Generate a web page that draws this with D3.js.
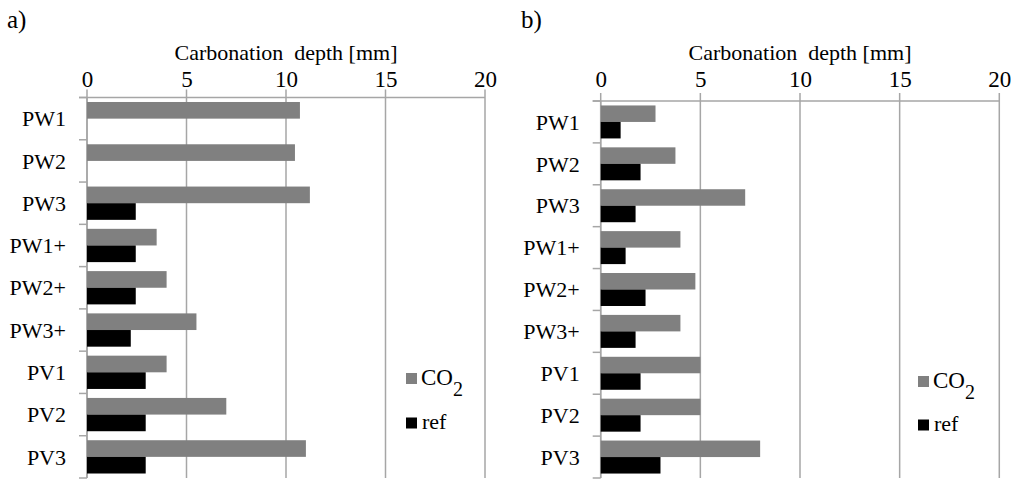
<!DOCTYPE html>
<html lang="en">
<head>
<meta charset="utf-8">
<title>Carbonation depth</title>
<script src="https://cdn.jsdelivr.net/npm/d3@7"></script>
<style>
  body { margin: 0; background: #fff; }
  svg { display: block; }
</style>
</head>
<body>
<script>
// categories and values (mm)
const categories = ["PW1", "PW2", "PW3", "PW1+", "PW2+", "PW3+", "PV1", "PV2", "PV3"];
const seriesKeys = ["CO2", "ref"];
const co2A = [10.7, 10.45, 11.2, 3.5, 4, 5.5, 4, 7, 11];
const refA = [0, 0, 2.45, 2.45, 2.45, 2.2, 2.95, 2.95, 2.95];
const co2B = [2.75, 3.75, 7.25, 4, 4.75, 4, 5, 5, 8];
const refB = [1, 2, 1.75, 1.25, 2.25, 1.75, 2, 2, 3];
const xTicks = [0, 5, 10, 15, 20];

const width = 1011, height = 480;
const serif = "'Liberation Serif', 'Times New Roman', Tinos";
const colors = {CO2: "#808080", ref: "#000000"};
const gridColor = "#a6a6a6";

const svg = d3.select("body").append("svg")
  .attr("width", width)
  .attr("height", height)
  .attr("viewBox", [0, 0, width, height])
  .attr("font-family", serif);

drawPanel({label: "a)", labelX: 7, left: 87, right: 485, top: 97.5, bottom: 478,
  co2: co2A, ref: refA, legendX: 406, legendY: [373, 417.5]});
drawPanel({label: "b)", labelX: 521, left: 600.7, right: 999.3, top: 101, bottom: 478,
  co2: co2B, ref: refB, legendX: 918, legendY: [376, 419.5]});

function drawPanel(p) {
  const g = svg.append("g");

  const x = d3.scaleLinear().domain([0, 20]).range([p.left, p.right]);
  const y = d3.scaleBand().domain(categories).range([p.top, p.bottom]);
  const ySub = d3.scaleBand().domain(seriesKeys).range([0, y.bandwidth()])
    .paddingInner(0).paddingOuter(0.27);

  const rows = categories.map((c, i) => ({cat: c, CO2: p.co2[i], ref: p.ref[i]}));

  // panel letter
  g.append("text")
    .attr("x", p.labelX).attr("y", 28)
    .attr("font-family", serif)
    .attr("font-size", 25)
    .text(p.label);

  // axis title
  g.append("text")
    .attr("x", (p.left + p.right) / 2).attr("y", 59.5)
    .attr("text-anchor", "middle")
    .attr("font-family", serif)
    .attr("font-size", 22)
    .attr("xml:space", "preserve")
    .text("Carbonation  depth [mm]");

  // vertical gridlines (cross the top axis)
  g.append("g")
    .selectAll("line")
    .data(xTicks)
    .join("line")
    .attr("x1", d => x(d)).attr("x2", d => x(d))
    .attr("y1", p.top - 8).attr("y2", p.bottom)
    .attr("stroke", gridColor).attr("stroke-width", 1.5);

  // top axis labels
  const ax = g.append("g")
    .attr("transform", `translate(0,${p.top})`)
    .call(d3.axisTop(x).tickValues(xTicks).tickSize(0).tickPadding(p.top - 87).tickFormat(d3.format("d")))
    .attr("font-family", serif)
    .attr("font-size", 23);
  ax.select(".domain").remove();
  ax.selectAll("text").attr("fill", "#000");

  // top axis line
  g.append("line")
    .attr("x1", p.left - 8).attr("x2", p.right)
    .attr("y1", p.top).attr("y2", p.top)
    .attr("stroke", gridColor).attr("stroke-width", 1.5);

  // category axis line and boundary ticks
  g.append("line")
    .attr("x1", p.left).attr("x2", p.left)
    .attr("y1", p.top).attr("y2", p.bottom)
    .attr("stroke", gridColor).attr("stroke-width", 1.5);
  g.append("g")
    .selectAll("line")
    .data(categories.concat(["_end"]))
    .join("line")
    .attr("x1", p.left - 8).attr("x2", p.left)
    .attr("y1", d => d === "_end" ? p.bottom : y(d))
    .attr("y2", d => d === "_end" ? p.bottom : y(d))
    .attr("stroke", gridColor).attr("stroke-width", 1.5);

  // category labels
  g.append("g")
    .selectAll("text")
    .data(categories)
    .join("text")
    .attr("x", p.left - 21)
    .attr("y", d => y(d) + y.bandwidth() / 2)
    .attr("dy", "0.35em")
    .attr("text-anchor", "end")
    .attr("font-family", serif)
    .attr("font-size", 22)
    .text(d => d);

  // bars
  g.append("g")
    .selectAll("g")
    .data(seriesKeys)
    .join("g")
    .attr("fill", k => colors[k])
    .selectAll("rect")
    .data(k => rows.map(r => ({cat: r.cat, key: k, value: r[k]})))
    .join("rect")
    .attr("x", x(0))
    .attr("y", d => y(d.cat) + ySub(d.key))
    .attr("width", d => x(d.value) - x(0))
    .attr("height", ySub.bandwidth());

  // legend
  const lg = g.append("g").attr("font-family", serif);
  seriesKeys.forEach((k, i) => {
    lg.append("rect")
      .attr("x", p.legendX).attr("y", p.legendY[i])
      .attr("width", 11).attr("height", 11)
      .attr("fill", colors[k]);
  });
  const co = lg.append("text")
    .attr("x", p.legendX + 15).attr("y", p.legendY[0] + 11.5)
    .attr("font-size", 23);
  co.append("tspan").text("CO");
  co.append("tspan").attr("dy", 11).attr("font-size", 20).text("2");
  lg.append("text")
    .attr("x", p.legendX + 16).attr("y", p.legendY[1] + 11.5)
    .attr("font-size", 22)
    .text("ref");
}
</script>
</body>
</html>
